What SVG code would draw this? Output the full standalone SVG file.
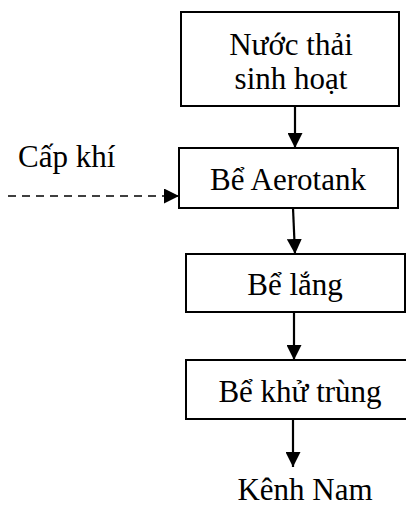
<svg xmlns="http://www.w3.org/2000/svg" width="406" height="511" viewBox="0 0 406 511">
  <style>
    .box { fill: #ffffff; stroke: #000000; stroke-width: 2; }
    .lbl { font-family: "Liberation Serif", "Times New Roman", serif; font-size: 31px; fill: #000000; }
    .mid { text-anchor: middle; }
    .flow { stroke: #000000; stroke-width: 2.2; fill: none; }
    .air { stroke: #000000; stroke-width: 1.6; fill: none; stroke-dasharray: 8 6; }
  </style>
  <defs>
    <marker id="head" viewBox="0 0 15 15" refX="15" refY="7.5" markerWidth="15" markerHeight="15" markerUnits="userSpaceOnUse" orient="auto">
      <path d="M0,0 L15,7.5 L0,15 Z" fill="#000000"/>
    </marker>
  </defs>
  <rect width="406" height="511" fill="#ffffff"/>

  <!-- process steps -->
  <g id="node-wastewater">
    <rect class="box" x="181" y="12" width="218" height="94"/>
    <text class="lbl mid" x="291" y="55">Nước thải</text>
    <text class="lbl mid" x="291" y="89">sinh hoạt</text>
  </g>
  <g id="node-aerotank">
    <rect class="box" x="179" y="148" width="219" height="60"/>
    <text class="lbl mid" x="288" y="190">Bể Aerotank</text>
  </g>
  <g id="node-settling">
    <rect class="box" x="186" y="254" width="219" height="58"/>
    <text class="lbl mid" x="295" y="295">Bể lắng</text>
  </g>
  <g id="node-disinfection">
    <rect class="box" x="186" y="360" width="230" height="59"/>
    <text class="lbl mid" x="300" y="402">Bể khử trùng</text>
  </g>
  <g id="node-air">
    <text class="lbl" x="18" y="167">Cấp khí</text>
  </g>
  <g id="node-outlet">
    <text class="lbl mid" x="305" y="500">Kênh Nam</text>
  </g>

  <!-- connectors -->
  <g id="connectors">
    <line class="flow" x1="295" y1="106" x2="295" y2="148" marker-end="url(#head)"/>
    <line class="flow" x1="293" y1="208" x2="295" y2="254" marker-end="url(#head)"/>
    <line class="flow" x1="294" y1="312" x2="294" y2="360" marker-end="url(#head)"/>
    <line class="flow" x1="293" y1="419" x2="293" y2="467" marker-end="url(#head)"/>
    <line class="air" x1="8" y1="196" x2="179" y2="196" marker-end="url(#head)"/>
  </g>
</svg>
